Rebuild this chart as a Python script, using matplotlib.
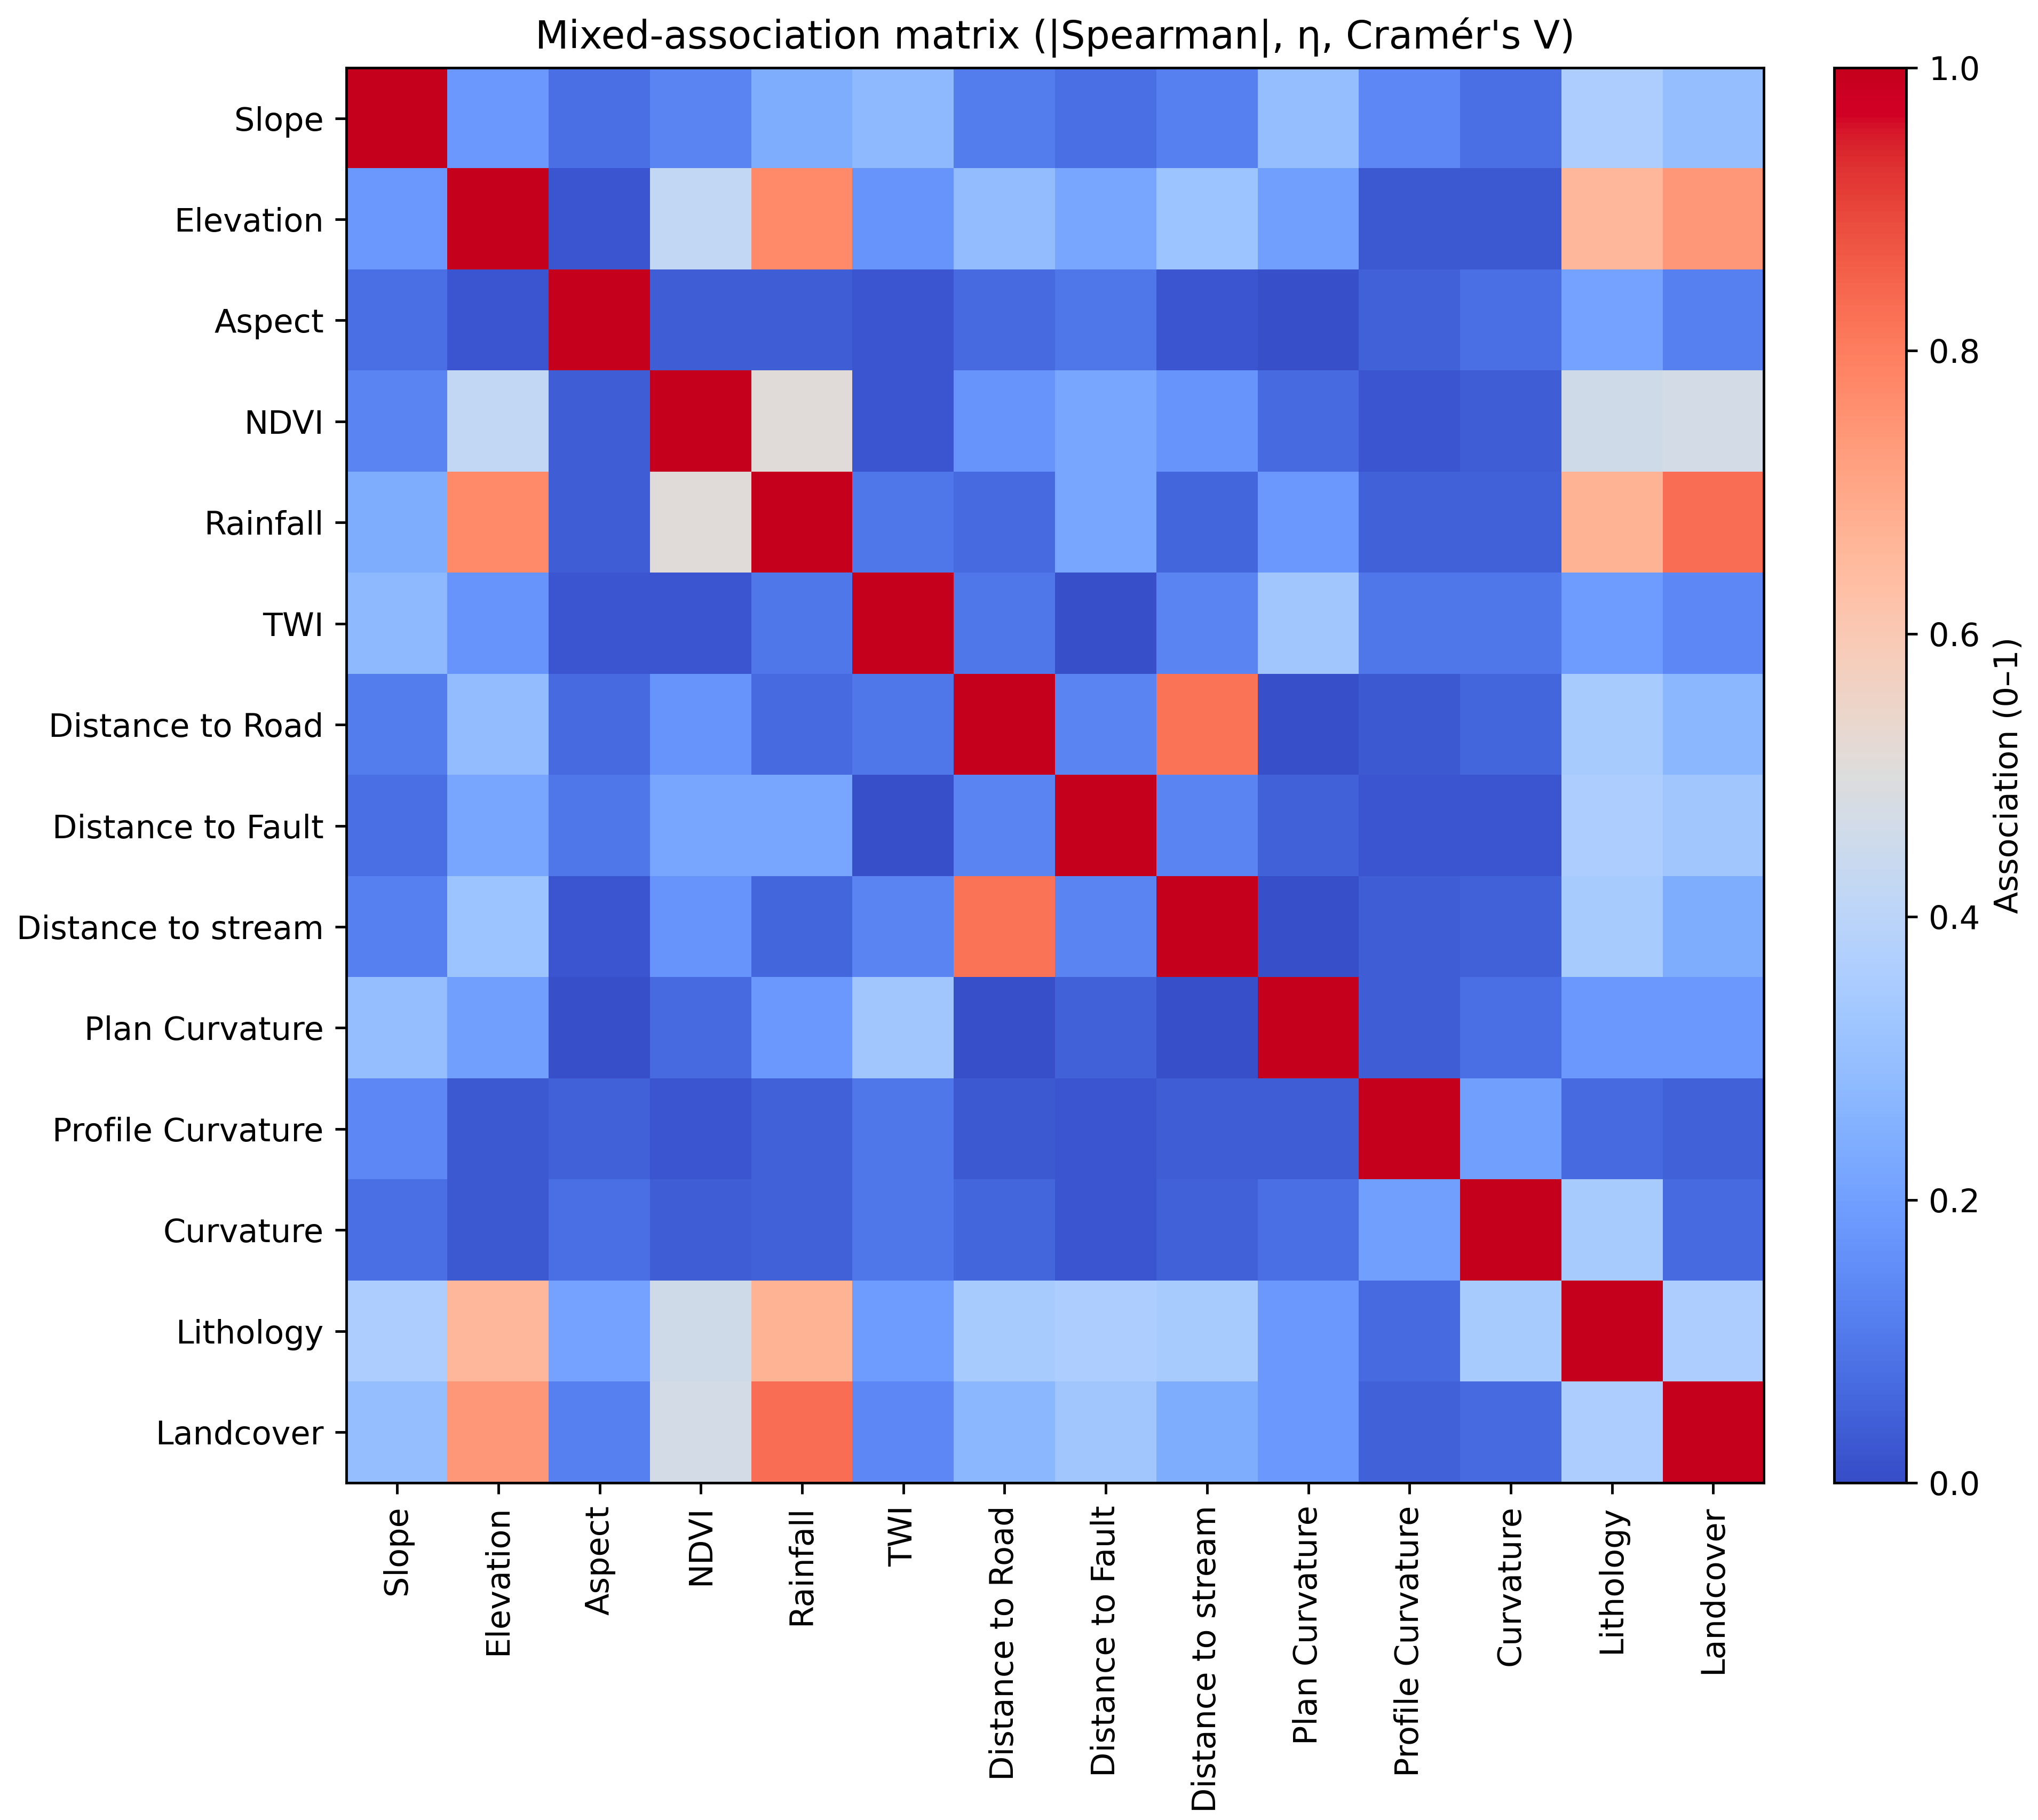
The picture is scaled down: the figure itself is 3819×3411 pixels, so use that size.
import numpy as np
import matplotlib
matplotlib.use("Agg")
import matplotlib.pyplot as plt
from matplotlib.colors import ListedColormap

features = [
    "Slope", "Elevation", "Aspect", "NDVI", "Rainfall", "TWI",
    "Distance to Road", "Distance to Fault", "Distance to stream",
    "Plan Curvature", "Profile Curvature", "Curvature", "Lithology", "Landcover",
]

# association values (symmetric, diagonal = 1)
assoc = [
    [1.00, 0.18, 0.08, 0.13, 0.24, 0.28, 0.11, 0.08, 0.12, 0.30, 0.14, 0.08, 0.36, 0.30],
    [0.18, 1.00, 0.02, 0.42, 0.77, 0.17, 0.29, 0.22, 0.32, 0.20, 0.03, 0.03, 0.66, 0.74],
    [0.08, 0.02, 1.00, 0.04, 0.04, 0.02, 0.07, 0.10, 0.02, 0.01, 0.05, 0.08, 0.21, 0.12],
    [0.13, 0.42, 0.04, 1.00, 0.51, 0.02, 0.17, 0.22, 0.17, 0.07, 0.02, 0.04, 0.46, 0.47],
    [0.24, 0.77, 0.04, 0.51, 1.00, 0.10, 0.07, 0.22, 0.06, 0.18, 0.05, 0.05, 0.67, 0.83],
    [0.28, 0.17, 0.02, 0.02, 0.10, 1.00, 0.10, 0.01, 0.13, 0.33, 0.10, 0.10, 0.19, 0.14],
    [0.11, 0.29, 0.07, 0.17, 0.07, 0.10, 1.00, 0.13, 0.82, 0.01, 0.03, 0.06, 0.35, 0.27],
    [0.08, 0.22, 0.10, 0.22, 0.22, 0.01, 0.13, 1.00, 0.13, 0.05, 0.02, 0.02, 0.36, 0.33],
    [0.12, 0.32, 0.02, 0.17, 0.06, 0.13, 0.82, 0.13, 1.00, 0.01, 0.04, 0.05, 0.35, 0.24],
    [0.30, 0.20, 0.01, 0.07, 0.18, 0.33, 0.01, 0.05, 0.01, 1.00, 0.04, 0.08, 0.18, 0.18],
    [0.14, 0.03, 0.05, 0.02, 0.05, 0.10, 0.03, 0.02, 0.04, 0.04, 1.00, 0.20, 0.07, 0.05],
    [0.08, 0.03, 0.08, 0.04, 0.05, 0.10, 0.06, 0.02, 0.05, 0.08, 0.20, 1.00, 0.35, 0.07],
    [0.36, 0.66, 0.21, 0.46, 0.67, 0.19, 0.35, 0.36, 0.35, 0.18, 0.07, 0.35, 1.00, 0.36],
    [0.30, 0.74, 0.12, 0.47, 0.83, 0.14, 0.27, 0.33, 0.24, 0.18, 0.05, 0.07, 0.36, 1.00],
]

mat = np.array(assoc)


# the reference colours look like coolwarm shown through a wide-gamut profile,
# so push the colormap the same way (P3 values reinterpreted as sRGB)
def widen_gamut(rgb):
    lin = np.where(rgb <= 0.04045, rgb / 12.92, ((rgb + 0.055) / 1.055) ** 2.4)
    m = np.array([[1.2249, -0.2247, 0.0],
                  [-0.0420, 1.0419, 0.0],
                  [-0.0197, -0.0786, 1.0983]])
    out = np.clip(lin @ m.T, 0, 1)
    return np.where(out <= 0.0031308, out * 12.92, 1.055 * out ** (1 / 2.4) - 0.055)


base = plt.get_cmap("coolwarm")(np.linspace(0, 1, 256))[:, :3]
cmap = ListedColormap(widen_gamut(base))

dpi = 436
fig = plt.figure(figsize=(3819 / dpi, 3411 / dpi), dpi=dpi)
ax = fig.add_axes([0.170, 0.1853, 0.6955, 0.7775])
cax = fig.add_axes([0.900, 0.1853, 0.0353, 0.7775])

im = ax.imshow(mat, cmap=cmap, vmin=0, vmax=1, aspect="auto")
ax.set_xticks(range(len(features)))
ax.set_yticks(range(len(features)))
ax.set_xticklabels(features, rotation=90)
ax.set_yticklabels(features)
ax.set_title("Mixed-association matrix (|Spearman|, η, Cramér's V)")

cb = fig.colorbar(im, cax=cax)
cb.set_label("Association (0–1)")

fig.savefig("out.png", dpi=dpi)
